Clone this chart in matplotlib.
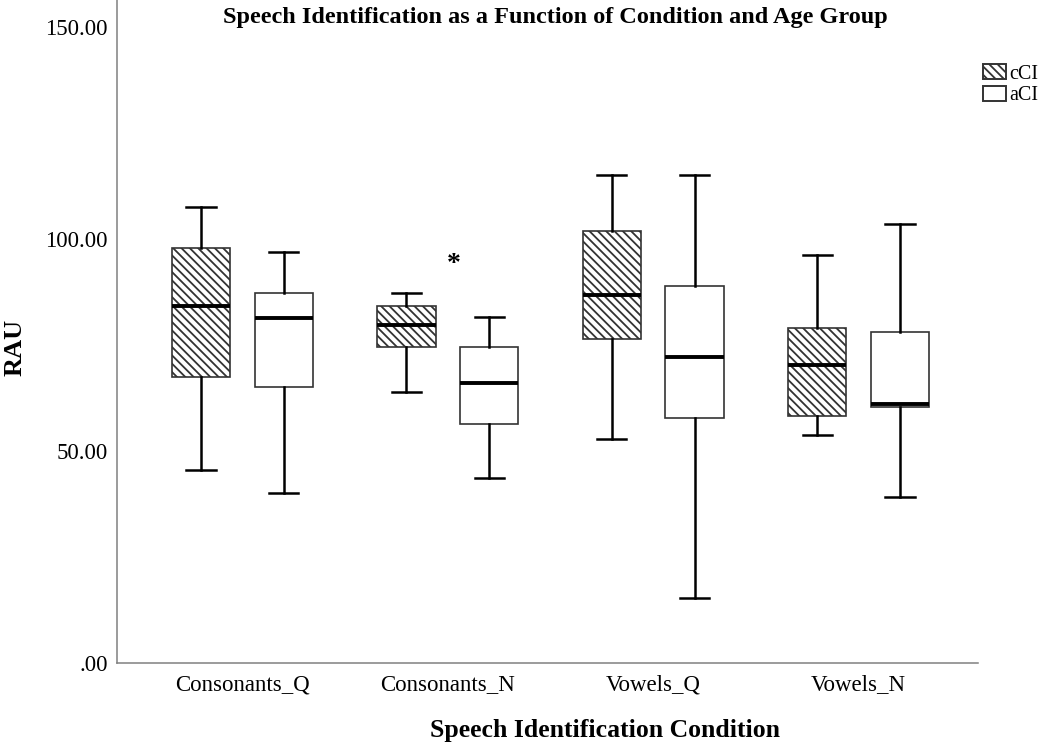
import matplotlib
matplotlib.use("Agg")
import matplotlib.pyplot as plt
from matplotlib.patches import Patch

# values (RAU)
conditions = ["Consonants_Q", "Consonants_N", "Vowels_Q", "Vowels_N"]
groups = ["cCI", "aCI"]

cci_whislo = [45.5, 64.0, 52.8, 53.7]
cci_q1     = [67.4, 74.6, 76.3, 58.3]
cci_med    = [84.2, 79.6, 86.8, 70.3]
cci_q3     = [97.8, 84.3, 101.9, 78.9]
cci_whishi = [107.5, 87.3, 115.1, 96.2]

aci_whislo = [40.0, 43.7, 15.3, 39.2]
aci_q1     = [65.0, 56.3, 57.9, 60.4]
aci_med    = [81.3, 66.0, 72.2, 61.1]
aci_q3     = [87.3, 74.6, 89.0, 78.0]
aci_whishi = [97.0, 81.7, 115.1, 103.5]

# extreme marked with a star (Consonants_N)
star_x = 1.03
star_y = 92.5

plt.rcParams['font.family'] = ['Liberation Serif', 'DejaVu Serif']
plt.rcParams['hatch.linewidth'] = 1.3

def make_stats(lo, q1, med, q3, hi):
    return [dict(whislo=lo[i], q1=q1[i], med=med[i], q3=q3[i], whishi=hi[i], fliers=[])
            for i in range(len(lo))]

cci_stats = make_stats(cci_whislo, cci_q1, cci_med, cci_q3, cci_whishi)
aci_stats = make_stats(aci_whislo, aci_q1, aci_med, aci_q3, aci_whishi)

fig = plt.figure(figsize=(10.5, 7.45), dpi=100)
ax = fig.add_axes([117/1050, 1-663/745, (978-117)/1050, 663/745])

off = 0.2016
w = 0.284
hatch = '\\\\\\\\'

common = dict(widths=w, patch_artist=True, showfliers=False, capwidths=w/2,
              whiskerprops=dict(color='black', linewidth=1.8),
              capprops=dict(color='black', linewidth=1.8),
              medianprops=dict(color='black', linewidth=2.8))

b1 = ax.bxp(cci_stats, positions=[i-off for i in range(4)],
            boxprops=dict(facecolor='white', edgecolor='#333333', linewidth=1.2, hatch=hatch),
            **common)
b2 = ax.bxp(aci_stats, positions=[i+off for i in range(4)],
            boxprops=dict(facecolor='white', edgecolor='#333333', linewidth=1.2),
            **common)

ax.text(star_x, star_y, '*', fontsize=20, fontweight='bold', ha='center', va='baseline')

ax.set_xlim(-0.6105, 3.581)
ax.set_ylim(0, 663/4.24)
ax.set_xticks(range(4))
ax.set_xticklabels(conditions, fontsize=16.5)
ax.set_yticks([0, 50, 100, 150])
ax.set_yticklabels(['.00', '50.00', '100.00', '150.00'], fontsize=16.5)
ax.tick_params(axis='both', length=0)
ax.tick_params(axis='y', pad=6.5)
ax.tick_params(axis='x', pad=8)

for s in ['top', 'right']:
    ax.spines[s].set_visible(False)
for s in ['left', 'bottom']:
    ax.spines[s].set_color('#808080')
    ax.spines[s].set_linewidth(1.1)

fig.text(555/1050, 1-17/745, "Speech Identification as a Function of Condition and Age Group",
         fontsize=17.5, fontweight='bold', ha='center', va='center')
fig.text(605/1050, 1-730/745, "Speech Identification Condition",
         fontsize=18.5, fontweight='bold', ha='center', va='center')
fig.text(15/1050, 1-347/745, "RAU", fontsize=19, fontweight='bold',
         rotation=90, ha='center', va='center')

handles = [Patch(facecolor='white', edgecolor='#333333', linewidth=1.4, hatch=hatch, label=groups[0]),
           Patch(facecolor='white', edgecolor='#333333', linewidth=1.4, label=groups[1])]
fig.legend(handles=handles, loc='upper left', bbox_to_anchor=(983/1050, 1-64/745),
           frameon=False, fontsize=14.5, handlelength=1.15, handleheight=0.8,
           handletextpad=0.15, labelspacing=0.1, borderpad=0, borderaxespad=0)

fig.savefig("out.png", dpi=100)
